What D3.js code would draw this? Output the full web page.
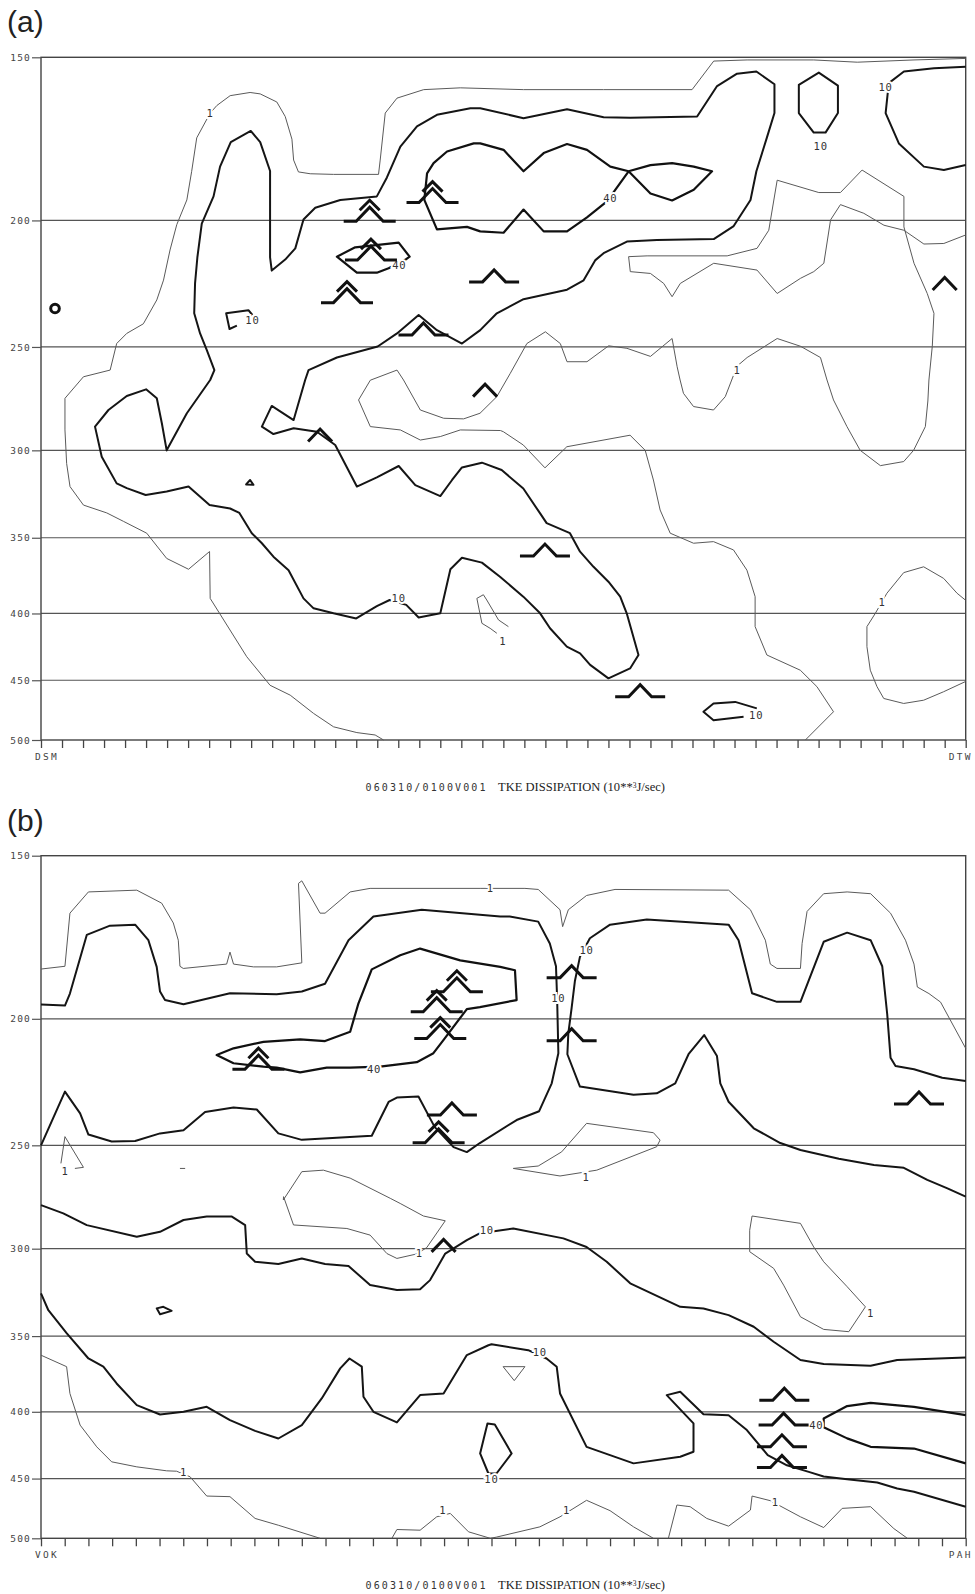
<!DOCTYPE html>
<html><head><meta charset="utf-8">
<script src="https://cdn.jsdelivr.net/npm/d3@7"></script>
<style>body{margin:0;background:#fff}svg{display:block}</style>
</head><body><svg id="chart" width="975" height="1594"></svg>
<script>
// ---------- axis / text data ----------
const pressureTicks = [150,200,250,300,350,400,450,500];
const gridCountA = 44, gridCountB = 39;      // cross-section grid intervals
const endpointsA = ["DSM","DTW"];
const endpointsB = ["VOK","PAH"];
const panelLetters = ["(a)","(b)"];
const titleCode = "060310/0100V001";
const titleVarParts = ["TKE DISSIPATION (10**","3","J/sec)"];

// ---------- panel (a) contours: [grid x, pressure hPa] ----------
const a_lvl1_outer = [[16.30,500],[15.90,495.6],[15.03,493.5],[13.92,488.5],[12.97,477.1],[11.86,462],[10.90,454],[9.79,431.7],[8.05,389.5],[8.02,358.6],[7.02,370],[5.98,363],[5.03,347.2],[3.92,340],[3.13,335],[2.02,330.4],[1.38,319.8],[1.22,307],[1.14,289.4],[1.14,273.7],[2.02,263.5],[3.29,260.4],[3.60,248.5],[4.08,244.1],[4.87,240],[5.51,230.1],[5.83,222.2],[6.14,210.7],[6.46,201.5],[6.94,192.9],[7.17,183.4],[7.41,172.9],[8.05,165.5],[8.37,163.3],[9.00,160.5],[9.95,159.6],[10.43,160],[11.22,162.3],[11.62,166.5],[11.94,173.3],[12.02,179.8],[12.25,183.6],[12.81,184.2],[13.92,184.4],[16.06,184.4],[16.14,179.8],[16.38,165.5],[16.94,161.2],[18.21,158.8],[19.95,158.3],[22.96,158.8],[26.77,158.8],[30.98,158.8],[32.01,151],[33.60,150.7],[36.77,150.7],[38.84,151.3],[41.54,150.7],[44.0,150.3]];
const a_lvl10_main = [[10.98,218.5],[10.90,213.5],[10.90,183.3],[10.43,174.2],[9.98,170.8],[9.03,174.2],[8.52,181.9],[8.21,191.7],[7.65,201.1],[7.44,213.5],[7.33,223.5],[7.29,235.6],[7.57,244.1],[7.89,251.4],[8.25,260.4],[8.05,265],[6.94,281],[5.98,300],[5.75,286],[5.51,273.7],[5.0,269.4],[4.08,272.6],[3.21,279.4],[2.57,287.7],[2.89,303.4],[3.60,318],[4.08,320.7],[4.98,324.6],[5.98,322.6],[7.02,319.8],[8.02,330.4],[9.0,332.4],[9.44,335],[10.03,347.2],[10.51,353.4],[11.06,361.9],[11.78,370.6],[12.49,389.5],[12.97,396.4],[13.92,399.9],[15.0,403.5],[15.98,394.8],[16.59,390.6],[17.38,394],[17.97,402.8],[19.0,399.9],[19.48,370],[20.03,362.6],[20.98,365.7],[21.84,374.9],[22.95,388.3],[23.75,399.9],[24.22,410.6],[25.02,424.1],[25.65,429.1],[26.13,438],[27.0,448.5],[28.03,440.7],[28.43,430.4],[27.87,399.9],[27.56,388.3],[27.0,378.2],[26.29,368.4],[25.65,358.7],[25.17,347.2],[24.06,341.1],[23.75,335.3],[22.95,320.9],[21.92,310.6],[20.98,306.6],[20.03,309.2],[19.56,316.1],[19.0,325.2],[17.81,319],[17.02,308.4],[15.98,314.6],[15.03,319.8],[14.0,297.2],[13.13,290.3],[12.02,288.5],[11.06,291.5],[10.51,287.7],[10.98,277.4],[12.02,284.4],[12.57,265],[12.73,260.4],[14.08,254.7],[16.02,249.8],[16.94,244.1],[17.97,236.3],[18.84,242.7],[20.03,248.5],[20.9,242.7],[21.69,235.6],[22.96,229.8],[25.03,226],[25.82,222.3],[26.38,214.5],[26.77,211.9],[27.88,207.6],[29.31,207],[32.01,206.7],[32.96,202],[33.76,192.9],[34.04,183.4],[34.55,172.6],[34.9,165.5],[34.9,157.3],[34.04,153.8],[33.12,154.4],[32.17,157.8],[31.22,166.5],[28.04,166.9],[26.77,166.7],[25.03,164.4],[22.96,167],[20.9,164.1],[20.43,164.1],[18.84,166],[17.89,169.4],[17.1,175.6],[16.46,185.4],[15.98,191.7],[14.24,192.9],[13.05,195.6],[12.49,199.7],[12.1,210.1],[11.62,214.3]];
const a_lvl40_eye = [[20.59,174.6],[19.32,177.1],[18.68,180.8],[18.37,184.1],[18.24,192.9],[18.84,203.2],[20.27,202.3],[20.9,203.9],[22.01,204.4],[22.96,196.2],[23.92,203.9],[25.03,203.9],[25.98,198.9],[26.93,193.4],[27.96,183.4],[29.0,190.7],[30.03,193.1],[31.06,189.5],[31.93,183.4],[31.06,181.9],[30.03,180.8],[29.0,181.4],[27.96,183.4],[27.09,181.9],[25.98,176.6],[25.03,174.8],[23.92,177.6],[22.96,183.4],[22.01,176.6],[20.9,174.6]];
const a_lvl40_small = [[14.08,213.2],[14.95,209.7],[17.02,208],[17.54,213.2],[17.33,214.4],[16.54,217.6],[15.98,219.3],[15.03,219.3]];
const a_lvl10_hook = [[9.32,240.8],[8.97,242.2],[8.81,235.6],[9.87,234.3],[10.06,236.3]];
const a_lvl10_dot = [[9.76,318.6],[9.95,316.1],[10.11,318.8]];
const a_lvl10_oval = [[36.06,157.5],[37.01,154.1],[37.92,157.7],[37.92,165.5],[37.33,171.3],[36.77,171.3],[36.06,165.5]];
const a_lvl10_corner = [[44.0,152.5],[42.49,152.9],[41.06,153.8],[40.34,157],[40.19,165.5],[40.82,174.6],[42.01,181.9],[42.96,183],[44.0,181.4]];
const a_lvl1_inner = [[44.0,205.2],[42.96,208.3],[42.01,208.5],[41.06,203.5],[40.11,201.7],[39.15,197.5],[38.04,194.5],[37.57,199.8],[37.25,215.7],[36.77,218.9],[36.14,221.5],[35.03,227.5],[34.07,218.3],[32.01,215.7],[30.42,223.5],[30.03,228.8],[29.63,223.5],[29.0,219.6],[28.04,218.9],[27.96,213.2],[28.84,212.9],[32.65,212.9],[34.07,210.1],[34.63,203.5],[35.03,186.3],[37.01,190.4],[38.04,190.4],[39.07,183],[41.06,191.7],[41.06,202.3],[41.54,215.7],[42.17,227.5],[42.49,235.6],[42.41,249.7],[42.25,265],[42.2,275],[42.08,287.7],[41.52,300],[41.05,306],[39.94,308.2],[38.98,300],[38.35,287.7],[37.71,274.5],[37.4,265],[37.09,254.7],[36.14,249.7],[35.03,246.3],[33.6,254.7],[33.12,258.6],[32.56,272.9],[32.0,279.4],[31.05,277.7],[30.57,271.3],[30.41,265],[30.27,258.9],[30.03,246.3],[29.0,254.2],[27.88,250.6],[27.01,249.5],[25.98,256.6],[25.03,256.6],[24.71,248.5],[24.0,243.4],[23.12,248.5],[22.33,261.9],[21.69,272.9],[20.89,281],[20.11,283.8],[19.16,283.5],[18.05,279.4],[17.25,265],[16.94,260.4],[15.67,265.1],[15.11,274.5],[15.67,287.7],[17.1,289.4],[18.05,294.6],[19.0,292.8],[19.95,289.4],[21.86,289.7],[22.0,290.3],[22.95,297.2],[23.98,309.4],[25.02,298.1],[28.03,292.1],[28.75,300],[29.14,316.1],[29.46,333.3],[29.94,347.2],[31.05,353.4],[32.0,352.4],[32.95,357.6],[33.59,370.6],[33.98,388.3],[33.98,409.4],[34.54,430.4],[36.13,442.1],[36.92,455.1],[37.71,475.7],[36.37,500]];
const a_lvl1_blob = [[22.24,409.4],[21.77,404.6],[21.21,390.6],[21.05,387],[20.74,389.5],[20.98,407],[21.37,410.6],[21.69,414.2]];
const a_lvl1_right = [[43.98,390.6],[43.59,386],[42.95,376],[42.0,368.4],[41.05,372.2],[40.25,386],[39.7,399.9],[39.3,409.4],[39.3,424.1],[39.46,442.1],[39.78,455.1],[40.1,464.7],[41.05,468.8],[42.0,466.1],[42.95,459.2],[43.98,451.1]];
const a_lvl10_bottom = [[34.06,472.9],[33.03,467.5],[32.0,468.8],[31.52,475.7],[32.0,482.8],[33.43,480]];

const labelsA = [[8.05,165.5,"1"],[17.02,389.5,"10"],[27.09,192.4,"40"],[17.05,216.6,"40"],[10.06,238.3,"10"],[37.1,175.6,"10"],[40.19,158.0,"10"],[33.12,260.4,"1"],[21.97,420.4,"1"],[40.02,391.8,"1"],[34.03,478.6,"10"]];
// turbulence symbols: L light, M moderate, S severe  [type, grid x, pressure of base]
const symbolsA = [["S",15.64,200.3],["S",18.63,193.8],["S",15.7,214.5],["S",14.56,231.2],["M",21.56,222.9],["L",43.0,226.1],["M",18.2,244.8],["L",21.13,272.9],["L",13.28,295.4],["M",23.98,361.5],["M",28.51,463.3]];
const circlesA = [[0.667,233.6]];

// ---------- panel (b) contours ----------
const b_lvl1_top = [[0,183.2],[1.01,182.3],[1.22,166.0],[2.0,159.9],[4.04,159.4],[5.09,163.1],[5.58,168.9],[5.79,174.1],[5.86,182.3],[6.0,183.0],[7.83,181.6],[7.97,177.8],[8.12,181.6],[8.96,182.5],[9.94,182.5],[11.0,181.2],[10.86,157.5],[11.0,156.8],[11.77,166.0],[11.98,166.0],[13.04,159.9],[13.88,158.9],[18.52,158.9],[20.41,158.9],[20.97,159.2],[21.89,165.0],[22.0,170.0],[22.24,165.0],[23.01,160.9],[24.21,159.2],[29.0,159.4],[29.92,165.0],[30.55,174.1],[30.76,181.6],[31.04,183.0],[32.03,183.0],[32.1,175.1],[32.31,165.5],[33.01,160.4],[34.0,159.9],[34.99,160.4],[35.83,166.0],[36.46,174.1],[36.82,181.6],[36.96,189.1],[37.45,191.3],[37.94,194.2],[39.0,210.7]];
const b_lvl10_left = [[0,195.0],[1.01,195.4],[1.22,191.3],[1.93,172.5],[2.91,169.7],[3.97,169.4],[4.53,174.1],[4.88,182.5],[5.02,190.6],[5.23,193.5],[6.01,194.9],[7.97,191.2],[9.94,191.5],[11.0,190.6],[11.98,188.0],[12.97,174.1],[14.02,167.0],[16.06,165.0],[19.37,167.0],[19.77,167.0],[20.97,168.5],[21.46,175.1],[21.72,182.3],[21.77,193.5],[21.82,212.5],[21.54,224.1],[21.01,235.4],[20.06,239.1],[18.51,249.0],[17.96,253.0],[17.4,250.8],[16.6,242],[15.92,229.4],[15.01,229.8],[14.66,231.6],[13.95,245.8],[11.0,247.6],[10.01,244.8],[9.1,234.7],[8.12,233.9],[6.92,235.7],[6.01,243.4],[5.02,244.8],[3.97,248.1],[2.98,248.3],[2.0,245.3],[1.65,236.3],[1.01,227.4],[0,250.0]];
const b_lvl10_right = [[39.0,223.2],[38.01,221.9],[36.82,218.6],[36.04,217.4],[35.83,214.2],[35.69,198.4],[35.48,182.3],[34.99,174.1],[34.0,171.8],[33.01,174.6],[32.03,194.1],[31.04,194.1],[29.99,191.2],[29.42,174.1],[29.0,169.4],[25.55,167.9],[24.0,169.4],[23.15,173.5],[22.73,179.3],[22.52,187.0],[22.38,196.2],[22.24,205.2],[22.2,212.9],[22.73,225.4],[24.99,228.7],[25.97,228.1],[26.75,224.1],[27.31,212.9],[27.97,205.8],[28.51,213.6],[28.65,224.1],[29.0,231.5],[30.06,242.6],[31.18,249.0],[32.03,252.1],[33.65,256.0],[35.13,258.8],[36.39,260.1],[37.38,265.7],[38.23,269.7],[39.0,273.7]];
const b_lvl40_loop = [[7.41,213.2],[8.12,210.7],[9.38,208.3],[10.93,207.4],[11.98,208.0],[13.04,204.6],[13.39,194.6],[13.95,183.3],[15.15,178.8],[15.99,176.7],[17.68,180.4],[19.37,182.5],[19.99,183.6],[20.06,193.5],[18.51,195.9],[17.96,196.6],[16.98,207.6],[16.55,212.5],[15.85,215.9],[14.3,217.6],[13.04,218.0],[12.05,218.0],[10.93,219.8],[9.94,218.0],[9.38,217.6],[8.12,216.3]];
const b_lvl1_tri = [[0.84,258.1],[1.01,246.2],[1.79,259.9],[1.43,260.4]];
const b_lvl1_dash = [[5.86,260.4],[6.08,260.4]];
const b_lvl1_loopR = [[23.01,240.5],[25.83,244.5],[26.11,247.7],[25.97,250.6],[23.44,261.2],[21.89,263.9],[19.92,260.4],[20.97,259.3],[21.96,252.9]];
const b_lvl1_loopL = [[10.22,275.3],[11.0,261.9],[11.91,261.2],[13.04,264.9],[14.73,274.5],[15.15,277.0],[16.13,283.2],[17.05,285.6],[16.27,299.4],[15.85,302.8],[15.01,305.2],[14.59,302.6],[13.88,292.9],[12.9,289.5],[10.65,287.7],[10.23,273.7]];
const b_lvl10_mid = [[0,277.8],[0.94,281.9],[1.93,287.8],[4.04,293.8],[5.02,291.2],[6.01,285.2],[6.99,283.5],[8.05,283.5],[8.61,287.8],[8.68,302.6],[9.03,307.0],[10.01,308.2],[11.0,305.2],[11.98,308.2],[12.97,309.3],[13.88,319.9],[15.01,322.7],[15.99,322.3],[16.41,317.1],[17.05,302.6],[17.96,295.5],[18.52,291.9],[19.92,289.5],[22.03,294.6],[23.01,299.1],[23.86,307.0],[24.85,318.9],[26.96,332.4],[27.94,333.4],[29.0,337.3],[30.06,344.3],[30.9,353.5],[32.03,365.1],[33.01,367.7],[34.99,368.8],[36.11,365.1],[39.0,363.4]];
const b_lvl10_low = [[0,324.6],[0.31,334.4],[1.08,348.2],[2.0,364.1],[2.63,369.4],[3.19,380.5],[4.04,395.3],[5.02,401.9],[6.01,400.0],[6.99,396.5],[7.97,405.9],[9.03,413.7],[10.01,419.3],[11.0,409.5],[11.84,390.7],[12.62,370.5],[13.01,364.1],[13.53,369.4],[13.6,389.5],[14.02,400.0],[15.01,407.6],[15.99,388.4],[16.98,387.3],[17.96,361.9],[18.87,355.7],[19.0,355.1],[20.55,358.8],[21.32,364.1],[21.75,369.4],[21.89,387.3],[23.01,425.5],[24.99,438.1],[26.96,433.0],[27.52,429.2],[27.52,408.3],[26.39,388.4],[26.96,386.1],[27.94,401.7],[29.0,402.4],[29.77,413.1],[30.65,431.7],[31.46,439.6],[32.38,444.7],[33.01,448.3],[34.0,450.5],[35.27,453.2],[36.11,457.9],[36.82,460.6],[39.0,472.9]];
const b_lvl40_right = [[39.0,402.4],[36.82,396.5],[34.99,393.7],[34.0,396.0],[33.01,404.7],[33.01,411.0],[34.0,419.2],[34.99,425.5],[36.82,426.8],[39.0,438.1]];
const b_lvl10_loop = [[18.52,430.5],[18.83,408.3],[19.14,409.0],[19.85,430.5],[19.21,446.0],[18.87,446.0]];
const b_lvl1_tri2 = [[19.49,369.4],[20.41,369.4],[19.96,378.6]];
const b_lvl10_drop = [[4.88,333.3],[5.16,332.4],[5.51,334.8],[5.02,336.8]];
const b_lvl1_left = [[0,362.0],[1.08,369.4],[1.22,387.3],[1.65,409.5],[2.35,425.5],[2.98,436.9],[4.04,440.8],[5.3,443.9],[5.72,444.2],[6.29,448.6],[6.99,464.1],[7.97,464.6],[9.03,482.8],[10.01,488.6],[11.77,500]];
const b_lvl1_bot1 = [[14.8,500],[15.01,492.3],[15.99,492.9],[16.69,481.4],[17.26,478.5],[18.03,494.3],[18.95,500],[19.2,499],[21.04,490.0],[21.89,481.4],[23.01,467.6],[24.0,476.2],[24.99,490.0],[25.83,500]];
const b_lvl1_bot2 = [[26.46,500],[26.82,471.5],[27.38,472.9],[28.08,482.8],[29.0,489.4],[29.92,475.7],[29.99,464.1],[30.76,467.9],[32.03,481.4],[33.01,490.6],[33.79,474.3],[34.99,472.9],[35.97,491.5],[36.54,500]];
const b_lvl1_right = [[29.99,283.2],[32.03,286.9],[32.59,299.1],[33.01,307.0],[34.0,320.8],[34.77,332.4],[34.07,347.3],[33.01,345.9],[32.03,338.3],[31.32,319.9],[30.9,310.6],[29.89,301.6],[29.89,290.4]];

const labelsB = [[18.95,158.9,"1"],[21.82,192.9,"10"],[23.01,177.2,"10"],[14.05,218.6,"40"],[1.01,261.5,"1"],[22.99,264.5,"1"],[15.96,302.6,"1"],[18.8,290.2,"10"],[21.04,359.8,"10"],[32.7,409.5,"40"],[19.0,450.8,"10"],[6.01,444.7,"1"],[16.95,476.2,"1"],[22.17,476.2,"1"],[30.97,469.3,"1"],[34.99,336.0,"1"]];
const symbolsB = [["S",17.54,190.7],["S",16.69,197.5],["S",16.84,207.1],["S",9.17,218.6],["M",22.38,186.0],["M",22.38,207.9],["M",37.03,232.4],["M",17.33,237.0],["S",16.77,248.9],["L",16.98,301.7],["M",31.35,391.9],["M",31.32,409.5],["M",31.25,425.5],["M",31.25,441.3]];
const circlesB = [];

// ---------- assemble ----------
const contoursA = [
  {lvl:1, closed:false, pts:a_lvl1_outer},
  {lvl:10, closed:true, pts:a_lvl10_main},
  {lvl:40, closed:true, pts:a_lvl40_eye},
  {lvl:40, closed:true, pts:a_lvl40_small},
  {lvl:10, closed:false, pts:a_lvl10_hook},
  {lvl:10, closed:true, pts:a_lvl10_dot},
  {lvl:10, closed:true, pts:a_lvl10_oval},
  {lvl:10, closed:false, pts:a_lvl10_corner},
  {lvl:1, closed:false, pts:a_lvl1_inner},
  {lvl:1, closed:false, pts:a_lvl1_blob},
  {lvl:1, closed:false, pts:a_lvl1_right},
  {lvl:10, closed:false, pts:a_lvl10_bottom}
];
const contoursB = [
  {lvl:1, closed:false, pts:b_lvl1_top},
  {lvl:10, closed:false, pts:b_lvl10_left},
  {lvl:10, closed:false, pts:b_lvl10_right},
  {lvl:40, closed:true, pts:b_lvl40_loop},
  {lvl:1, closed:false, pts:b_lvl1_tri},
  {lvl:1, closed:false, pts:b_lvl1_dash},
  {lvl:1, closed:true, pts:b_lvl1_loopR},
  {lvl:1, closed:true, pts:b_lvl1_loopL},
  {lvl:10, closed:false, pts:b_lvl10_mid},
  {lvl:10, closed:false, pts:b_lvl10_low},
  {lvl:40, closed:false, pts:b_lvl40_right},
  {lvl:10, closed:true, pts:b_lvl10_loop},
  {lvl:1, closed:true, pts:b_lvl1_tri2},
  {lvl:10, closed:true, pts:b_lvl10_drop},
  {lvl:1, closed:false, pts:b_lvl1_left},
  {lvl:1, closed:false, pts:b_lvl1_bot1},
  {lvl:1, closed:false, pts:b_lvl1_bot2},
  {lvl:1, closed:true, pts:b_lvl1_right}
];

const levelStyle = {1:{stroke:"#5a5a5a", w:1}, 10:{stroke:"#151515", w:2}, 40:{stroke:"#111", w:2.2}};

const svg = d3.select("#chart");
const X0 = 41, X1 = 965.7;
const panels = [
  {letter:panelLetters[0], letterY:31.5, top:57.3, bottom:740, n:gridCountA, ends:endpointsA, contours:contoursA, labels:labelsA, symbols:symbolsA, circles:circlesA, titleY:790.5},
  {letter:panelLetters[1], letterY:830.5, top:855.7, bottom:1538.3, n:gridCountB, ends:endpointsB, contours:contoursB, labels:labelsB, symbols:symbolsB, circles:circlesB, titleY:1589}
];

function drawPanel(p){
  const g = svg.append("g");
  const x = d3.scaleLinear().domain([0,p.n]).range([X0,X1]);
  const y = d3.scaleLog().domain([150,500]).range([p.top,p.bottom]);

  g.append("text").attr("x",7).attr("y",p.letterY)
    .attr("font-family","Liberation Sans, Arial, sans-serif").attr("font-size",30).attr("fill","#222").text(p.letter);

  // gridlines
  g.selectAll("line.grid").data(pressureTicks.slice(1,-1)).join("line").attr("class","grid")
    .attr("x1",X0).attr("x2",X1).attr("y1",d=>y(d)).attr("y2",d=>y(d))
    .attr("stroke","#555").attr("stroke-width",1.2);
  // frame
  g.append("rect").attr("x",X0).attr("y",p.top).attr("width",X1-X0).attr("height",p.bottom-p.top)
    .attr("fill","none").attr("stroke","#444").attr("stroke-width",1.4);

  // y axis
  const yg = g.append("g").attr("transform",`translate(${X0},0)`)
    .call(d3.axisLeft(y).tickValues(pressureTicks).tickFormat(d3.format("d")).tickSize(9).tickPadding(1));
  yg.select(".domain").remove();
  yg.selectAll("line").attr("stroke","#555").attr("stroke-width",1.2);
  yg.selectAll("text").attr("font-family","DejaVu Sans Mono, monospace").attr("font-size",9.5)
    .attr("letter-spacing",1.2).attr("fill","#444");

  // x axis ticks
  const xg = g.append("g").attr("transform",`translate(0,${p.bottom})`)
    .call(d3.axisBottom(x).tickValues(d3.range(0,p.n+1)).tickFormat("").tickSize(8));
  xg.select(".domain").remove();
  xg.selectAll("line").attr("stroke","#444").attr("stroke-width",1.3);

  // endpoints
  g.append("text").attr("x",x(0)-6).attr("y",p.bottom+19.5).attr("font-family","DejaVu Sans Mono, monospace")
    .attr("font-size",9.5).attr("letter-spacing",2.3).attr("fill","#444").text(p.ends[0]);
  g.append("text").attr("x",x(p.n)+7).attr("y",p.bottom+19.5).attr("text-anchor","end").attr("font-family","DejaVu Sans Mono, monospace")
    .attr("font-size",9.5).attr("letter-spacing",2.3).attr("fill","#444").text(p.ends[1]);

  // title
  g.append("text").attr("x",365.5).attr("y",p.titleY).attr("font-family","DejaVu Sans Mono, monospace")
    .attr("font-size",10).attr("fill","#333").attr("textLength",120).attr("lengthAdjust","spacing").text(titleCode);
  const tt = g.append("text").attr("x",498).attr("y",p.titleY).attr("font-family","Liberation Serif, Times New Roman, serif")
    .attr("font-size",12.5).attr("fill","#222").attr("textLength",167).attr("lengthAdjust","spacingAndGlyphs");
  tt.append("tspan").text(titleVarParts[0]);
  tt.append("tspan").attr("font-size",7.5).attr("dy",-3).text(titleVarParts[1]);
  tt.append("tspan").attr("dy",3).text(titleVarParts[2]);

  // contours
  const line = d3.line().x(d=>x(d[0])).y(d=>y(d[1]));
  const lineC = d3.line().x(d=>x(d[0])).y(d=>y(d[1])).curve(d3.curveLinearClosed);
  const cg = g.append("g").attr("fill","none").attr("stroke-linejoin","round");
  p.contours.forEach(c=>{
    const st = levelStyle[c.lvl];
    cg.append("path").attr("d",(c.closed?lineC:line)(c.pts))
      .attr("stroke",st.stroke).attr("stroke-width",st.w);
  });

  // contour labels (white halo breaks the line)
  g.append("g").selectAll("text").data(p.labels).join("text")
    .attr("x",d=>x(d[0])).attr("y",d=>y(d[1])).attr("dy","0.36em").attr("text-anchor","middle")
    .attr("font-family","DejaVu Sans Mono, monospace").attr("font-size",10.5).attr("letter-spacing",0.8)
    .attr("fill","#333").attr("stroke","#fff").attr("stroke-width",4).attr("paint-order","stroke")
    .text(d=>d[2]);

  // turbulence symbols
  const sg = g.append("g").attr("fill","none").attr("stroke","#111").attr("stroke-width",3)
    .attr("stroke-linejoin","miter").attr("stroke-linecap","butt");
  p.symbols.forEach(([t,gx,pr])=>{
    const cx = x(gx), by = y(pr);
    if(t==="L"){
      sg.append("path").attr("d",`M${cx-12},${by}L${cx},${by-12.5}L${cx+12},${by}`);
    } else if(t==="M"){
      sg.append("path").attr("d",`M${cx-25},${by}L${cx-11.5},${by}L${cx},${by-12}L${cx+11.5},${by}L${cx+25},${by}`);
    } else {
      sg.append("path").attr("d",`M${cx-26},${by}L${cx-13.5},${by}L${cx},${by-14}L${cx+13.5},${by}L${cx+26},${by}`);
      sg.append("path").attr("d",`M${cx-10},${by-11}L${cx},${by-21}L${cx+10},${by-11}`);
    }
  });
  g.selectAll("circle.sym").data(p.circles).join("circle").attr("class","sym")
    .attr("cx",d=>x(d[0])).attr("cy",d=>y(d[1])).attr("r",4.3)
    .attr("fill","none").attr("stroke","#111").attr("stroke-width",3);
}
panels.forEach(drawPanel);
</script></body></html>
